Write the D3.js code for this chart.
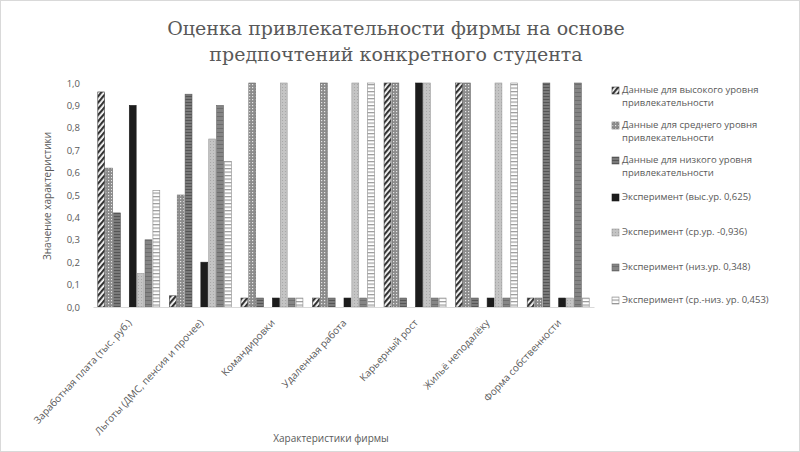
<!DOCTYPE html>
<html>
<head>
<meta charset="utf-8">
<script src="https://cdn.jsdelivr.net/npm/d3@7"></script>
<style>
  body { margin: 0; background: #fff; }
  svg { display: block; }
  text { font-family: "Open Sans", "Liberation Sans", sans-serif; fill: #595959; }
</style>
</head>
<body>
<svg id="chart"></svg>
<script>
//Chart data
var categories = ["Заработная плата (тыс. руб.)", "Льготы (ДМС, пенсия и прочее)", "Командировки",
	"Удаленная работа", "Карьерный рост", "Жильё неподалёку", "Форма собственности"];
var seriesNames = ["Данные для высокого уровня привлекательности",
	"Данные для среднего уровня привлекательности",
	"Данные для низкого уровня привлекательности",
	"Эксперимент (выс.ур. 0,625)",
	"Эксперимент (ср.ур. -0,936)",
	"Эксперимент (низ.ур. 0,348)",
	"Эксперимент (ср.-низ. ур. 0,453)"];
var highData   = [0.96, 0.05, 0.04, 0.04, 1.0, 1.0, 0.04];
var midData    = [0.62, 0.50, 1.0, 1.0, 1.0, 1.0, 0.04];
var lowData    = [0.42, 0.95, 0.04, 0.04, 0.04, 0.04, 1.0];
var expHigh    = [0.90, 0.20, 0.04, 0.04, 1.0, 0.04, 0.04];
var expMid     = [0.15, 0.75, 1.0, 1.0, 1.0, 1.0, 0.04];
var expLow     = [0.30, 0.90, 0.04, 0.04, 0.04, 0.04, 1.0];
var expMidLow  = [0.52, 0.65, 0.04, 1.0, 0.04, 1.0, 0.04];
var yTicks = [0, 0.1, 0.2, 0.3, 0.4, 0.5, 0.6, 0.7, 0.8, 0.9, 1.0];

var allSeries = [highData, midData, lowData, expHigh, expMid, expLow, expMidLow];
//slot 3 stays empty, as in the original chart
var slots = [0, 1, 2, 4, 5, 6, 7];

//Canvas settings
var width = 800;
var height = 452;
var plot = {left: 93, right: 594, top: 83, bottom: 307};

var svg = d3.select("#chart")
	.attr("width", width)
	.attr("height", height);

svg.append("rect")
	.attr("x", 0.5).attr("y", 0.5)
	.attr("width", width - 1).attr("height", height - 1)
	.attr("fill", "#fff").attr("stroke", "#d9d9d9");

//Patterns for series fills
var defs = svg.append("defs");

function addPattern(id, w, h, bg, draw, transform) {
	var p = defs.append("pattern")
		.attr("id", id)
		.attr("patternUnits", "userSpaceOnUse")
		.attr("width", w).attr("height", h);
	if (transform) p.attr("patternTransform", transform);
	p.append("rect").attr("width", w).attr("height", h).attr("fill", bg);
	draw(p);
}

addPattern("p0", 4, 4, "#fff", function(p) {
	p.append("rect").attr("width", 2.2).attr("height", 4).attr("fill", "#333");
}, "rotate(40)");
addPattern("p1", 3, 3, "#8c8c8c", function(p) {
	p.append("rect").attr("width", 1.2).attr("height", 1.2).attr("fill", "#e6e6e6");
});
addPattern("p2", 4, 3, "#7a7a7a", function(p) {
	p.append("rect").attr("width", 4).attr("height", 1).attr("fill", "#555");
});
addPattern("p3", 4, 4, "#1c1c1c", function(p) {});
addPattern("p4", 3, 3, "#c4c4c4", function(p) {
	p.append("rect").attr("width", 1).attr("height", 1).attr("fill", "#a8a8a8");
});
addPattern("p5", 4, 4, "#858585", function(p) {
	p.append("rect").attr("width", 4).attr("height", 1).attr("fill", "#6e6e6e");
});
addPattern("p6", 4, 3.5, "#fff", function(p) {
	p.append("rect").attr("width", 4).attr("height", 1.2).attr("fill", "#9a9a9a");
});
var strokes = ["#404040", "#6a6a6a", "#5a5a5a", "#1c1c1c", "#9a9a9a", "#666", "#8a8a8a"];

//Scales
var x0 = d3.scaleBand()
	.domain(categories)
	.range([plot.left, plot.right])
	.paddingInner(0.12)
	.paddingOuter(0.06);

var x1 = d3.scaleBand()
	.domain(d3.range(8))
	.range([0, x0.bandwidth()]);

var y = d3.scaleLinear()
	.domain([0, 1])
	.range([plot.bottom, plot.top]);

//Bars
var groups = svg.append("g").selectAll("g")
	.data(allSeries)
	.enter().append("g")
	.attr("fill", function(d, i) { return "url(#p" + i + ")"; })
	.attr("stroke", function(d, i) { return strokes[i]; })
	.attr("stroke-width", 0.6);

groups.each(function(series, si) {
	d3.select(this).selectAll("rect")
		.data(series)
		.enter().append("rect")
		.attr("x", function(d, ci) { return x0(categories[ci]) + x1(slots[si]) + 0.5; })
		.attr("width", x1.bandwidth() - 1)
		.attr("y", function(d) { return y(d); })
		.attr("height", function(d) { return y(0) - y(d); });
});

//Y axis
var yAxis = d3.axisLeft(y)
	.tickValues(yTicks)
	.tickSize(0)
	.tickPadding(13)
	.tickFormat(function(d) { return d3.format(".1f")(d).replace(".", ","); });

var yG = svg.append("g")
	.attr("transform", "translate(" + plot.left + ",0)")
	.call(yAxis);
yG.select(".domain").remove();
yG.selectAll("text").attr("font-size", 9.5).attr("fill", "#595959");

//X axis
var xAxis = d3.axisBottom(x0).tickSize(0).tickPadding(0);
var xG = svg.append("g")
	.attr("transform", "translate(0," + plot.bottom + ")")
	.call(xAxis);
xG.select(".domain").attr("stroke", "#d9d9d9");
xG.selectAll("text")
	.attr("font-size", 10)
	.attr("fill", "#595959")
	.attr("text-anchor", "end")
	.attr("dy", "0.35em")
	.attr("transform", "translate(1,14) rotate(-47)");

//Axis titles
svg.append("text")
	.attr("transform", "translate(51,196) rotate(-90)")
	.attr("text-anchor", "middle")
	.attr("font-size", 10)
	.text("Значение характеристики");

svg.append("text")
	.attr("x", 331).attr("y", 442)
	.attr("text-anchor", "middle")
	.attr("font-size", 10)
	.text("Характеристики фирмы");

//Title
var title = svg.append("text")
	.attr("text-anchor", "middle")
	.style("font-family", "'DejaVu Serif', serif")
	.attr("font-size", 19)
	.attr("fill", "#595959");
title.append("tspan").attr("x", 396).attr("y", 35).text("Оценка привлекательности фирмы на основе");
title.append("tspan").attr("x", 396).attr("y", 61).text("предпочтений конкретного студента");

//Legend
var legendY = [93, 128, 163, 200, 235, 270, 303];
var legend = svg.append("g").selectAll("g")
	.data(seriesNames)
	.enter().append("g")
	.attr("transform", function(d, i) { return "translate(612," + legendY[i] + ")"; });

legend.append("rect")
	.attr("x", 0).attr("y", -6)
	.attr("width", 7).attr("height", 7)
	.attr("fill", function(d, i) { return "url(#p" + i + ")"; })
	.attr("stroke", function(d, i) { return strokes[i]; })
	.attr("stroke-width", 0.6);

legend.each(function(name, i) {
	var t = d3.select(this).append("text")
		.attr("x", 10).attr("y", 0)
		.attr("font-size", 9.5);
	if (i < 3) {
		var parts = name.split(" привлекательности");
		t.append("tspan").attr("x", 10).text(parts[0]);
		t.append("tspan").attr("x", 10).attr("dy", 13).text("привлекательности");
	} else {
		t.text(name);
	}
});
</script>
</body>
</html>
